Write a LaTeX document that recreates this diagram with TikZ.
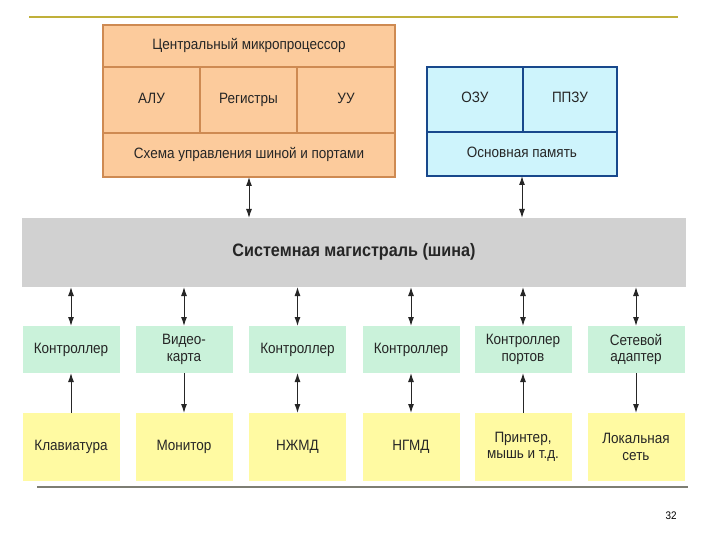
\documentclass[tikz,border=0pt]{standalone}
\usepackage{fontspec}
\setmainfont[FakeStretch=0.9]{Liberation Sans}
\usetikzlibrary{arrows.meta,positioning}

\definecolor{cpufill}{RGB}{252,203,156}
\definecolor{cpuline}{RGB}{206,138,82}
\definecolor{memfill}{RGB}{206,244,252}
\definecolor{memline}{RGB}{24,72,140}
\definecolor{busfill}{RGB}{209,209,209}
\definecolor{ctlfill}{RGB}{202,242,218}
\definecolor{devfill}{RGB}{255,250,162}
\definecolor{topline}{RGB}{192,176,58}
\definecolor{botline}{RGB}{125,125,115}

\begin{document}
\begin{tikzpicture}[x=1pt, y=-1pt,
    cell/.style={inner sep=0pt, outer sep=0pt, align=center, text=black!85, font=\fontsize{15}{16.5}\selectfont},
    oneline/.style={text height=0.75em, text depth=0.05em},
    cpu/.style={cell, oneline, draw=cpuline, fill=cpufill, line width=1.3pt},
    mem/.style={cell, oneline, draw=memline, fill=memfill, line width=1.3pt},
    ctl/.style={cell, fill=ctlfill, minimum width=97pt, minimum height=47pt},
    dev/.style={cell, fill=devfill, minimum width=97pt, minimum height=68pt},
    arr/.style={-{Latex[length=9pt,width=6pt]}, line width=1pt, black!85},
    biarr/.style={{Latex[length=9pt,width=6pt]}-{Latex[length=9pt,width=6pt]}, line width=1pt, black!85}
]
\useasboundingbox (0,0) rectangle (720,540);

% rules of the slide
\draw[topline, line width=2pt] (29,17.5) -- (678,17.5);
\draw[botline, line width=1.2pt] (37,487) -- (688,487);
\node[font=\fontsize{11}{12}\selectfont] (page) at (671,516) {32};

% processor
\node[cpu, minimum width=292pt, minimum height=42pt] (cpu) at (249,46) {Центральный микропроцессор};
\node[cpu, minimum width=97pt, minimum height=66pt] (alu) at (151.5,100) {АЛУ};
\node[cpu, minimum width=97pt, minimum height=66pt] (regs) at (248.5,100) {Регистры};
\node[cpu, minimum width=98pt, minimum height=66pt] (cu) at (346,100) {УУ};
\node[cpu, minimum width=292pt, minimum height=44pt] (busctl) at (249,155) {Схема управления шиной и портами};

% memory
\node[mem, minimum width=96pt, minimum height=65pt] (ram) at (475,99.5) {ОЗУ};
\node[mem, minimum width=94pt, minimum height=65pt] (rom) at (570,99.5) {ППЗУ};
\node[mem, minimum width=190pt, minimum height=44pt] (mainmem) at (522,154) {Основная память};

% system bus
\node[cell, oneline, fill=busfill, minimum width=664pt, minimum height=69pt, font=\fontsize{18}{20}\selectfont\bfseries] (bus) at (354,252.5) {Системная магистраль (шина)};

% controllers
\node[ctl, oneline] (ctl1) at (71,349.5) {Контроллер};
\node[ctl] (ctl2) at (184,349.5) {Видео-\\карта};
\node[ctl, oneline] (ctl3) at (297.5,349.5) {Контроллер};
\node[ctl, oneline] (ctl4) at (411,349.5) {Контроллер};
\node[ctl] (ctl5) at (523,349.5) {Контроллер\\портов};
\node[ctl] (ctl6) at (636,349.5) {Сетевой\\адаптер};

% devices
\node[dev, oneline] (kbd) at (71,447) {Клавиатура};
\node[dev, oneline] (mon) at (184,447) {Монитор};
\node[dev, oneline] (fdd) at (297.5,447) {НЖМД};
\node[dev, oneline] (tape) at (411,447) {НГМД};
\node[dev] (prn) at (523,447) {Принтер,\\мышь и т.д.};
\node[dev] (lan) at (636,447) {Локальная\\сеть};

% bus links
\draw[biarr] (busctl.south) -- (busctl.south |- bus.north);
\draw[biarr] (mainmem.south) -- (mainmem.south |- bus.north);
\draw[biarr] (bus.south -| ctl1.north) -- (ctl1.north);
\draw[biarr] (bus.south -| ctl2.north) -- (ctl2.north);
\draw[biarr] (bus.south -| ctl3.north) -- (ctl3.north);
\draw[biarr] (bus.south -| ctl4.north) -- (ctl4.north);
\draw[biarr] (bus.south -| ctl5.north) -- (ctl5.north);
\draw[biarr] (bus.south -| ctl6.north) -- (ctl6.north);

% device links
\draw[arr] (kbd) -- (ctl1);
\draw[arr] (ctl2) -- (mon);
\draw[biarr] (ctl3) -- (fdd);
\draw[biarr] (ctl4) -- (tape);
\draw[arr] (prn) -- (ctl5);
\draw[arr] (ctl6) -- (lan);
\end{tikzpicture}
\end{document}
